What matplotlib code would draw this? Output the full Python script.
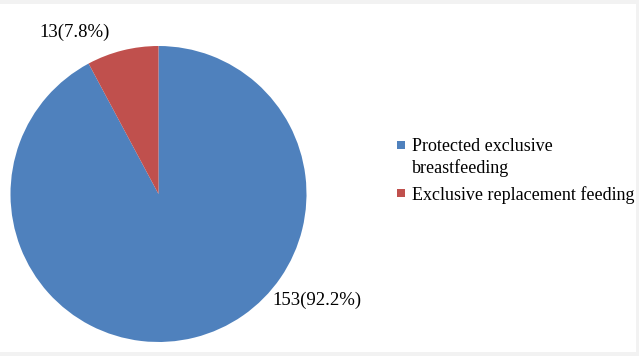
import matplotlib
matplotlib.use("Agg")
import matplotlib.pyplot as plt
from matplotlib.patches import Rectangle

categories = ["Protected exclusive\nbreastfeeding", "Exclusive replacement feeding"]
counts = [153, 13]
percents = [92.2, 7.8]
colors = ["#4F81BD", "#C0504D"]

W, H = 639, 356
fig = plt.figure(figsize=(W / 100, H / 100), dpi=100, facecolor="#f2f2f2")
fig.patches.append(Rectangle((0, 4 / H), 636 / W, 348 / H, transform=fig.transFigure,
                             facecolor="white", edgecolor="none", zorder=-5))

cx, cy, r = 158.5, 194, 148
ax = fig.add_axes([(cx - r) / W, (H - cy - r) / H, 2 * r / W, 2 * r / H])
ax.set_zorder(2)
ax.pie(counts, colors=colors, startangle=90, counterclock=False,
       wedgeprops=dict(linewidth=0))
ax.set_xlim(-1, 1)
ax.set_ylim(-1, 1)
ax.set_aspect("equal")
ax.axis("off")

font = "Liberation Serif"
fs = 13.5
label_pos = [(1.068, -0.716), (-0.565, 1.09)]
for (x, y), c, p in zip(label_pos, counts, percents):
    ax.text(x, y, f"{c}({p}%)", ha="center", va="center", fontsize=fs,
            family=font, clip_on=False)

# legend (manual, square aligned with first text line as in reference)
lfs = 13.0
entry_top = [145, 193]
for top, col, lab in zip(entry_top, colors, categories):
    fig.patches.append(Rectangle((397 / W, 1 - (top + 4) / H), 8 / W, 8 / H,
                                 transform=fig.transFigure, facecolor=col,
                                 edgecolor="none", zorder=3))
    fig.text(412 / W, 1 - (top - 7) / H, lab, ha="left", va="top", fontsize=lfs,
             family=font, linespacing=1.32)

fig.savefig("out.png", dpi=100, facecolor=fig.get_facecolor())
